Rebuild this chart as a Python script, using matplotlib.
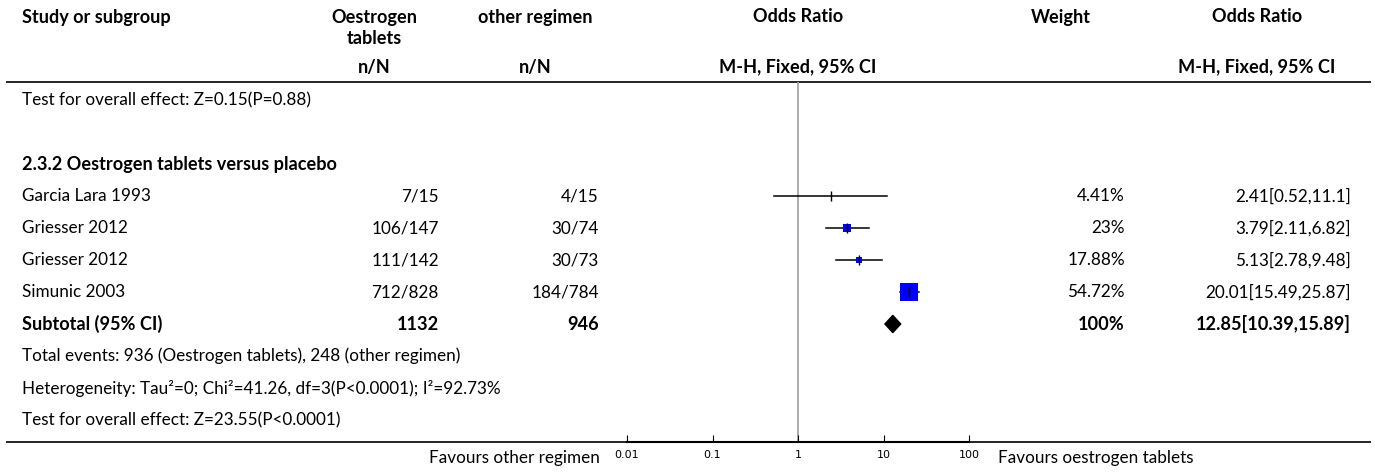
import matplotlib
matplotlib.use("Agg")
import matplotlib.pyplot as plt
from matplotlib.patches import Polygon

plt.rcParams['font.family'] = ['Lato', 'DejaVu Sans']

# Study rows
studies = ["Garcia Lara 1993", "Griesser 2012", "Griesser 2012", "Simunic 2003"]
oes_events = [7, 106, 111, 712]
oes_total = [15, 147, 142, 828]
oth_events = [4, 30, 30, 184]
oth_total = [15, 74, 73, 784]
odds = [2.41, 3.79, 5.13, 20.01]
ci_lo = [0.52, 2.11, 2.78, 15.49]
ci_hi = [11.1, 6.82, 9.48, 25.87]
weights = [4.41, 23, 17.88, 54.72]

# Pooled estimate
sub_odds, sub_lo, sub_hi = 12.85, 10.39, 15.89
sub_weight = 100

prev_test = "Test for overall effect: Z=0.15(P=0.88)"
group_title = "2.3.2 Oestrogen tablets versus placebo"
het_text = "Heterogeneity: Tau\u00b2=0; Chi\u00b2=41.26, df=3(P<0.0001); I\u00b2=92.73%"
test_text = "Test for overall effect: Z=23.55(P<0.0001)"
ticks = [0.01, 0.1, 1, 10, 100]
tick_labels = ["0.01", "0.1", "1", "10", "100"]

W, H = 1375, 473
fig = plt.figure(figsize=(W / 100, H / 100), dpi=100)

# table layer in pixel coordinates
tab = fig.add_axes([0, 0, 1, 1])
tab.set_xlim(0, W)
tab.set_ylim(H, 0)
tab.axis("off")

FS = 12.3
FSB = 13.1
def row_y(i):
    return 100 + 32 * i

def txt(x, y, s, ha="left", bold=False):
    tab.text(x, y, s, ha=ha, va="center", fontsize=FSB if bold else FS,
             fontweight="bold" if bold else "normal", color="black")

# column positions
x_name = 22
x_oes, c_oes = 439, 374
x_oth, c_oth = 599, 535
c_plot = 798
x_w, c_w = 1125, 1061
x_or, c_or = 1351, 1257

# header
txt(x_name, 17, "Study or subgroup", bold=True)
txt(c_oes, 17, "Oestrogen", ha="center", bold=True)
txt(c_oes, 39, "tablets", ha="center", bold=True)
txt(c_oth, 17, "other regimen", ha="center", bold=True)
txt(c_plot, 17, "Odds Ratio", ha="center", bold=True)
txt(c_w, 17, "Weight", ha="center", bold=True)
txt(c_or, 17, "Odds Ratio", ha="center", bold=True)
txt(c_oes, 67, "n/N", ha="center", bold=True)
txt(c_oth, 67, "n/N", ha="center", bold=True)
txt(c_plot, 67, "M-H, Fixed, 95% CI", ha="center", bold=True)
txt(c_or, 67, "M-H, Fixed, 95% CI", ha="center", bold=True)
tab.plot([6, 1371], [82, 82], color="black", lw=1.2, solid_capstyle="butt")
tab.plot([6, 1371], [442, 442], color="black", lw=1.2, solid_capstyle="butt")

txt(x_name, row_y(0), prev_test)
txt(x_name, row_y(2), group_title, bold=True)

for i, name in enumerate(studies):
    y = row_y(3 + i)
    txt(x_name, y, name)
    txt(x_oes, y, f"{oes_events[i]}/{oes_total[i]}", ha="right")
    txt(x_oth, y, f"{oth_events[i]}/{oth_total[i]}", ha="right")
    txt(x_w, y, f"{weights[i]:g}%", ha="right")
    txt(x_or, y, f"{odds[i]:g}[{ci_lo[i]:g},{ci_hi[i]:g}]", ha="right")

y = row_y(7)
txt(x_name, y, "Subtotal (95% CI)", bold=True)
txt(x_oes, y, str(sum(oes_total)), ha="right", bold=True)
txt(x_oth, y, str(sum(oth_total)), ha="right", bold=True)
txt(x_w, y, f"{sub_weight}%", ha="right", bold=True)
txt(x_or, y, f"{sub_odds:g}[{sub_lo:g},{sub_hi:g}]", ha="right", bold=True)
txt(x_name, row_y(8),
    f"Total events: {sum(oes_events)} (Oestrogen tablets), {sum(oth_events)} (other regimen)")
txt(x_name, row_y(9), het_text)
txt(x_name, row_y(10), test_text)

txt(600, 458, "Favours other regimen", ha="right")
txt(998, 458, "Favours oestrogen tablets")

# forest plot on a log axis
x0, x1 = 627, 969
top, bot = 82, 442
fa = fig.add_axes([x0 / W, 1 - bot / H, (x1 - x0) / W, (bot - top) / H])
fa.set_xscale("log")
fa.set_xlim(0.01, 100)
fa.set_ylim((bot - 100) / 32, (top - 100) / 32)
fa.patch.set_alpha(0)
for s in ["top", "left", "right"]:
    fa.spines[s].set_visible(False)
fa.spines["bottom"].set_linewidth(1.5)
fa.yaxis.set_visible(False)
fa.set_xticks(ticks)
fa.set_xticklabels(tick_labels, family="DejaVu Sans", fontsize=8)
fa.minorticks_off()
fa.tick_params(axis="x", direction="in", length=5, width=0.8, pad=6)
fa.axvline(1, color="#a6a6a6", lw=1.3, zorder=1)

for i in range(len(studies)):
    r = 3 + i
    fa.plot([ci_lo[i], ci_hi[i]], [r, r], color="black", lw=1.1, zorder=2)
    side_px = 0.33 * weights[i]
    fa.plot(odds[i], r, marker="s", color="#0000ff", markersize=side_px * 0.72,
            markeredgewidth=0, zorder=3)
    fa.plot(odds[i], r, marker="|", color="black", markersize=6.5,
            markeredgewidth=1.0, zorder=4)

r = 7
fa.add_patch(Polygon([(sub_lo, r), (sub_odds, r - 0.27), (sub_hi, r),
                      (sub_odds, r + 0.27)], closed=True,
                     facecolor="black", edgecolor="black", zorder=3))

fig.savefig("out.png", dpi=100)
